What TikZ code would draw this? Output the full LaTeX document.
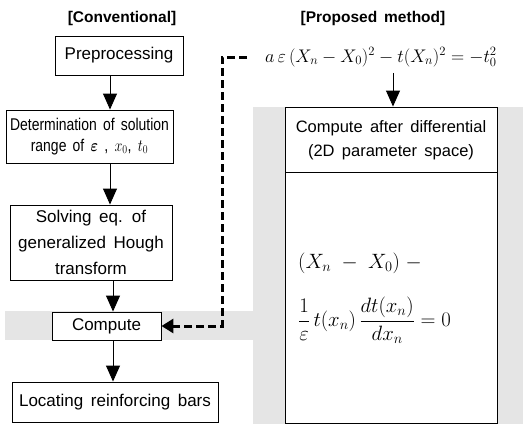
\documentclass[tikz,border=0pt]{standalone}
\usepackage{amsmath}
\usepackage{fontspec}
\usepackage{graphicx}
\setmainfont[WordSpace=1.6]{Liberation Sans}
\usetikzlibrary{arrows.meta}
\definecolor{stipple}{gray}{0.9}
\tikzset{
  box/.style={draw=black, line width=0.9pt, inner sep=0pt, align=center,
    font=\fontsize{17}{24}\selectfont},
  title/.style={font=\fontsize{15.5}{18}\selectfont\bfseries},
  arr/.style={line width=0.9pt, -{Triangle[width=14pt,length=16pt]}},
  dasharr/.style={line width=3pt, dash pattern=on 8pt off 4pt,
    -{Triangle[width=14pt,length=12pt]}},
  eq/.style={inner sep=0pt, font=\huge}
}
\begin{document}
\begin{tikzpicture}[x=1pt,y=-1pt]
\useasboundingbox (0,0) rectangle (523,424);
% stippled background
\fill[stipple] (253,107) rectangle (523,424);
\fill[stipple] (5,311) rectangle (285,340);
% titles
\node[title] (tconv) at (122,18) {[Conventional]};
\node[title] (tprop) at (373,18) {[Proposed method]};
% left column
\node[box, fill=white, minimum width=128pt, minimum height=39pt] (pre) at (119,55.5) {Preprocessing};
\node[box, fill=white, minimum width=167pt, minimum height=53pt, font=\fontsize{17}{21}\selectfont] (det) at (89.5,136.5)
  {\scalebox{0.82}[1]{Determination of solution}\\ \scalebox{0.82}[1]{range of {\LARGE$\boldsymbol{\varepsilon}$ , $x_0$, $t_0$}}};
\node[box, fill=white, minimum width=162pt, minimum height=75pt, font=\fontsize{17}{26}\selectfont] (solv) at (91,242.5)
  {Solving eq. of\\generalized Hough\\transform};
\node[box, fill=white, minimum width=109pt, minimum height=28pt] (comp) at (106.5,326) {Compute};
\node[box, fill=white, minimum width=206pt, minimum height=40pt] (loc) at (115,402) {Locating reinforcing bars};
% right column
\node[box, fill=white, minimum width=212pt, minimum height=316pt] (rbox) at (391,265) {};
\coordinate (divl) at (285,172);
\coordinate (divr) at (497,172);
\draw[line width=0.9pt] (divl) -- (divr);
\node[inner sep=0pt, align=center, font=\fontsize{16.5}{24}\selectfont] (rhead) at (391,140)
  {Compute after differential\\(2D parameter space)};
\node[eq, anchor=west] (eqa) at (298,263) {$(X_n \;-\; X_0) \;-$};
\node[eq, anchor=west] (eqb) at (298,320) {$\dfrac{1}{\varepsilon}\, t(x_n)\,\dfrac{dt(x_n)}{dx_n} = 0$};
\node[eq, anchor=west] (form) at (265,57) {\scalebox{0.88}{$a\,\varepsilon\,(X_n - X_0)^2 - t(X_n)^2 = -t_0^2$}};
% arrows
\coordinate (c1) at (110,0);
\coordinate (c2) at (113,0);
\coordinate (c3) at (393,0);
\draw[arr] (pre.south -| c1) -- (det.north -| c1);
\draw[arr] (det.south -| c1) -- (solv.north -| c1);
\draw[arr] (solv.south -| c2) -- (comp.north -| c2);
\draw[arr] (comp.south -| c2) -- (loc.north -| c2);
\draw[arr, shorten <=6pt] (form.south -| c3) -- (rbox.north -| c3);
% dashed connector
\coordinate (d1) at (222,57);
\coordinate (d2) at (222,326);
\draw[dasharr] ([xshift=-18pt]form.west) -- (d1) -- (d2) -- (comp.east);
\end{tikzpicture}
\end{document}
